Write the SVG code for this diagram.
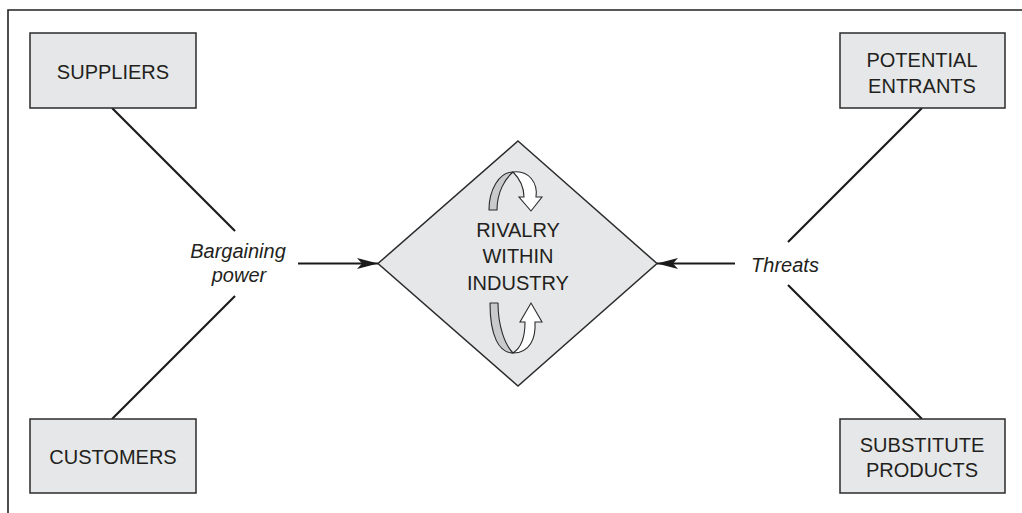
<svg xmlns="http://www.w3.org/2000/svg" width="1022" height="513" viewBox="0 0 1022 513">
  <style>
    .box { fill: #e6e7e8; stroke: #2b2b2b; stroke-width: 1.5; }
    .lbl { font-family: "Liberation Sans", Arial, sans-serif; font-size: 20px; fill: #231f20; text-anchor: middle; }
    .it { font-style: italic; }
    .conn { stroke: #1a1a1a; stroke-width: 2.2; fill: none; }
    .band { fill: #c9cacb; stroke: #2b2b2b; stroke-width: 1.1; stroke-linejoin: round; }
    .front { fill: #ffffff; stroke: #2b2b2b; stroke-width: 1.1; stroke-linejoin: miter; }
  </style>
  <defs>
    <marker id="ah" markerUnits="userSpaceOnUse" markerWidth="22" markerHeight="12" viewBox="0 0 22 12" refX="21" refY="6" orient="auto">
      <path d="M0,0.5 L21,6 L0,11.5 L5,6 Z" fill="#1a1a1a"/>
    </marker>
  </defs>
  <rect width="1022" height="513" fill="#ffffff"/>
  <path d="M8,513 L8,10 L1022,10" fill="none" stroke="#222" stroke-width="1.6"/>

  <g id="connectors">
    <line class="conn" x1="112" y1="108" x2="235" y2="231"/>
    <line class="conn" x1="112" y1="419" x2="235" y2="296"/>
    <line class="conn" x1="922" y1="108" x2="788" y2="242"/>
    <line class="conn" x1="922" y1="419" x2="788" y2="285"/>
    <line class="conn" x1="298" y1="263.5" x2="378" y2="263.5" marker-end="url(#ah)"/>
    <line class="conn" x1="735" y1="263.5" x2="657" y2="263.5" marker-end="url(#ah)"/>
  </g>

  <g id="suppliers">
    <rect class="box" x="30" y="33" width="166" height="75"/>
    <text class="lbl" x="113" y="79">SUPPLIERS</text>
  </g>
  <g id="customers">
    <rect class="box" x="30" y="419" width="166" height="74"/>
    <text class="lbl" x="113" y="464">CUSTOMERS</text>
  </g>
  <g id="potential-entrants">
    <rect class="box" x="840" y="33" width="165" height="75"/>
    <text class="lbl" x="922" y="67">POTENTIAL</text>
    <text class="lbl" x="922" y="93">ENTRANTS</text>
  </g>
  <g id="substitute-products">
    <rect class="box" x="840" y="419" width="165" height="74"/>
    <text class="lbl" x="922" y="452">SUBSTITUTE</text>
    <text class="lbl" x="922" y="477">PRODUCTS</text>
  </g>

  <g id="rivalry">
    <polygon class="box" points="518,141 657,263.5 518,386 378,263.5" stroke-width="1.3"/>
    <path class="band" d="M489,210 C489,190 499,172 513,172 C505,179 497,192 497,210 Z"/>
    <path class="front" d="M513,172 C529,170 538,183 536,197 L542,197 L531,211 L519,197 L524,197 C524,188 520,179 513,172 Z"/>
    <path class="band" d="M490,303 L498,303 C498,326 505,345 513,353 C499,353 490,336 490,303 Z"/>
    <path class="front" d="M513,353 C530,353 536,338 535,322 L542,322 L531,303 L520,322 L525,322 C525,338 521,348 513,353 Z"/>
    <text class="lbl" x="518" y="237">RIVALRY</text>
    <text class="lbl" x="518" y="263">WITHIN</text>
    <text class="lbl" x="518" y="290">INDUSTRY</text>
  </g>

  <g id="bargaining-power">
    <text class="lbl it" x="238" y="258">Bargaining</text>
    <text class="lbl it" x="239" y="282">power</text>
  </g>
  <g id="threats">
    <text class="lbl it" x="785" y="272">Threats</text>
  </g>
</svg>
